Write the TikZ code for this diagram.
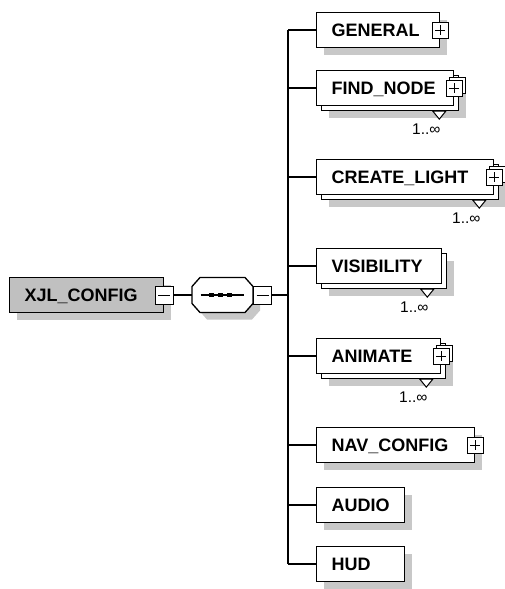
\documentclass[tikz,border=0pt]{standalone}
\usepackage{fontspec}
\setmainfont{Liberation Sans}
\usetikzlibrary{shadows}
\definecolor{shd}{RGB}{200,200,200}
\definecolor{elfill}{RGB}{192,192,192}
\newcommand\occurs[1]{%
  \filldraw[fill=white,line width=1] ([xshift=-21.5,yshift=-5]#1.south east) -- ([xshift=-8.5,yshift=-5]#1.south east) -- ([xshift=-15,yshift=-13]#1.south east) -- cycle;
  \node[occ] (#1-occ) at ([xshift=-28,yshift=-23]#1.south east) {1..∞};}
\newcommand\octpath{(192,286.5) -- (200,277.5) -- (245,277.5) -- (253,286.5) -- (253,303.5) -- (245,312.5) -- (200,312.5) -- (192,303.5) -- cycle}
\begin{document}
\begin{tikzpicture}[x=1pt,y=-1pt,
  el/.style={draw,fill=white,line width=1.3,minimum height=35,inner xsep=15,inner ysep=0,
    anchor=west,align=left,text height=13,text depth=0,
    font=\fontsize{18}{20}\selectfont\bfseries},
  single/.style={el,drop shadow={shadow xshift=7pt,shadow yshift=-7pt,fill=shd,opacity=1}},
  multi/.style={el,drop shadow={shadow xshift=12pt,shadow yshift=-12pt,fill=shd,opacity=1},
    copy shadow={shadow xshift=5pt,shadow yshift=-5pt,fill=white,draw=black,line width=1.3}},
  pm/.style={draw,fill=white,line width=1,minimum size=16,inner sep=0},
  plusbox/.style={pm,path picture={\draw[line width=1]
    ([xshift=3]path picture bounding box.west) -- ([xshift=-3]path picture bounding box.east)
    ([yshift=-3]path picture bounding box.north) -- ([yshift=3]path picture bounding box.south);}},
  plusmulti/.style={plusbox,copy shadow={shadow xshift=3pt,shadow yshift=3pt,fill=white,draw=black,line width=1}},
  minusbox/.style={pm,minimum size=18,path picture={\draw[line width=1]
    ([xshift=3]path picture bounding box.west) -- ([xshift=-3]path picture bounding box.east);}},
  occ/.style={font=\fontsize{15.5}{18}\selectfont,inner sep=0},
  conn/.style={line width=1.3}
]
\useasboundingbox (0,0) rectangle (505,589);

% root
\node[single,fill=elfill,text width=124] (root) at (9,295) {XJL\_CONFIG};
\node[minusbox] (rootm) at (root.east) {};

% sequence compositor (octagon)
\fill[shd,shift={(7,7)}] \octpath;
\filldraw[fill=white,line width=1.3] \octpath;
\node[minimum width=61,minimum height=35,inner sep=0] (seq) at (222.5,295) {};
\node[minusbox,anchor=west] (seqm) at (seq.east) {};
\draw[line width=1.3] ([xshift=-22]seq.center) -- ([xshift=21]seq.center);
\foreach \dx in {-11,-2,7}
  \fill ([xshift=\dx]seq.center) +(-2.2,-2.2) rectangle +(2.2,2.2);

\coordinate (trunk) at (288,295);
\draw[conn] (rootm.east) -- (seq.west);
\draw[conn] (seqm.east) -- (trunk);

% children
\node[single,text width=93] (gen) at (316,30) {GENERAL};
\node[plusbox] (genp) at (gen.east) {};

\node[multi,text width=107] (fn) at (316,88) {FIND\_NODE};
\node[plusmulti] (fnp) at (fn.east) {};
\occurs{fn}

\node[multi,text width=147] (cl) at (316,177) {CREATE\_LIGHT};
\node[plusmulti] (clp) at (cl.east) {};
\occurs{cl}

\node[multi,text width=95] (vis) at (316,266) {VISIBILITY};
\occurs{vis}

\node[multi,text width=94] (ani) at (316,356) {ANIMATE};
\node[plusmulti] (anip) at (ani.east) {};
\occurs{ani}

\node[single,text width=128] (nav) at (316,445) {NAV\_CONFIG};
\node[plusbox] (navp) at (nav.east) {};

\node[single,text width=58] (aud) at (316,505) {AUDIO};
\node[single,text width=58] (hud) at (316,564) {HUD};

% trunk and branches
\draw[conn] (trunk |- gen.west) -- (trunk |- hud.west);
\foreach \n in {gen,fn,cl,vis,ani,nav,aud,hud}
  \draw[conn] (trunk |- \n.west) -- (\n.west);
\end{tikzpicture}
\end{document}
